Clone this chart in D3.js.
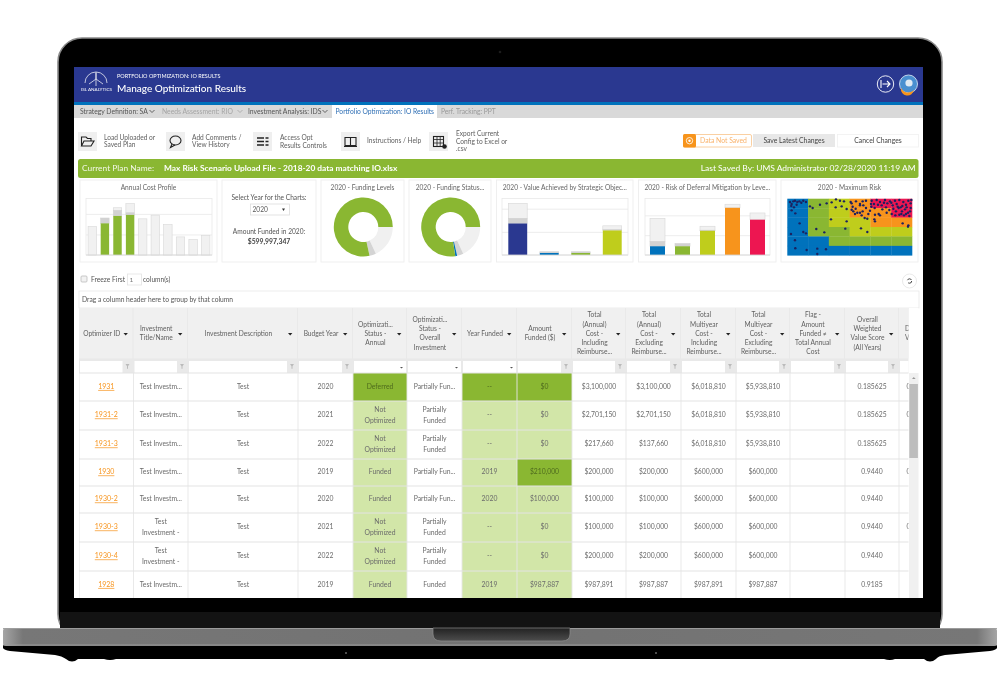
<!DOCTYPE html>
<html>
<head>
<meta charset="utf-8">
<title>Manage Optimization Results</title>
<script src="https://cdn.jsdelivr.net/npm/d3@7"></script>
<style>
  html, body { margin: 0; padding: 0; background: #fff; }
  svg { display: block; }
  text { font-family: "Lato", "Open Sans", sans-serif; }
</style>
</head>
<body>
<div id="chart"></div>
<script>
// Annual cost profile ($M)
const costBars = [0, 1, 2, 3, 4, 5, 6, 7, 8, 9];
const costFunded = [0, 770, 950, 975, 0, 0, 0, 0, 0, 0];
const costGray = [0, 130, 130, 50, 0, 0, 0, 0, 0, 0];
const costLight = [690, 0, 70, 225, 880, 970, 740, 440, 375, 470];

// Donuts (percent of total)
const levelShares = [18, 3.6, 78.4];
const levelColors = ["#f0f0f0", "#d4d4d4", "#8ab733"];
const statusShares = [18, 3.5, 1, 77.5];
const statusColors = ["#f0f0f0", "#d4d4d4", "#0072bc", "#8ab733"];

// Value achieved by strategic objective
const valueBars = [0, 1, 2, 3];
const valueFunded = [68, 4.3, 4.3, 53];
const valueGray = [11, 2.7, 2.7, 1.5];
const valueLight = [32.6, 0, 0, 8.5];
const valueColors = ["#2b3990", "#0072bc", "#8ab733", "#bfcd1f"];

// Risk of deferral mitigation by level
const riskBars = [0, 1, 2, 3, 4];
const riskFunded = [22, 22, 61, 119, 89];
const riskGray = [12, 7, 1.5, 0, 0];
const riskLight = [58.5, 0, 10, 9, 17];
const riskColors = ["#0072bc", "#8ab733", "#bfcd1f", "#f7941d", "#ed1651"];

// Maximum risk heat map, level of each cell from the top row down
const riskLevelColors = ["#0072bc", "#8ab733", "#bfcd1f", "#f7941d", "#ed1651"];
const riskMatrix = [
  [0, 1, 2, 3, 4, 4],
  [0, 1, 2, 3, 3, 4],
  [0, 1, 2, 2, 3, 3],
  [0, 1, 1, 2, 2, 2],
  [0, 0, 1, 1, 1, 1],
  [0, 0, 0, 0, 0, 0]
];
const riskPoints = [
  [8,160],[13,154],[18,162],[23,164],[30,160],[36,162],[48,164],[56,160],[20,144],[13,135],[24,126],[37,96],
  [11,64],[48,70],[56,66],[23,45],[24,21],[58,16],[90,20],[90,4],[116,18],[12,148],[28,152],[42,158],
  [68,147],[76,142],[98,152],[118,156],[133,159],[87,79],[111,69],
  [146,168],[158,164],[170,162],[145,144],[163,147],[178,139],[131,108],[178,102],[174,80],[221,81],[240,70],
  [193,137],[198,132],[190,160],[206,162],[218,154],[226,162],[236,164],[203,124],[210,128],[218,128],[223,120],
  [236,142],[243,124],[240,110],[263,122],[261,108],[263,102],[274,124],[278,120],[298,128],[226,132],[346,96],
  [363,90],[362,86],[193,156],[228,150],[218,150],[196,146],[205,140],[232,112],[248,134],
  [253,164],[260,154],[268,166],[278,160],[283,150],[293,166],[300,156],[308,162],[316,150],[323,164],[328,154],
  [336,166],[340,144],[348,160],[356,152],[363,164],[370,156],[318,140],[326,132],[334,142],[344,132],[353,138],
  [362,128],[370,142],[324,120],[336,122],[350,120],[366,118],[313,124],[252,146],[262,142],[272,152],[285,138],
  [296,144],[306,136],[290,158],[312,158],[331,146],[345,148],[358,144],[368,132],[356,124],[342,124],[372,166],[251,154]
];

// Table
const columnHeaders = [
  "Optimizer ID", "Investment\nTitle/Name", "Investment Description", "Budget Year",
  "Optimizati...\nStatus -\nAnnual", "Optimizati...\nStatus -\nOverall\nInvestment", "Year Funded",
  "Amount\nFunded ($)", "Total\n(Annual)\nCost -\nIncluding\nReimburse...", "Total\n(Annual)\nCost -\nExcluding\nReimburse...",
  "Total\nMultiyear\nCost -\nIncluding\nReimburse...", "Total\nMultiyear\nCost -\nExcluding\nReimburse...",
  "Flag -\nAmount\nFunded \u2260\nTotal Annual\nCost", "Overall\nWeighted\nValue Score\n(All Years)", "D\nV"
];
const columnEdges = [79, 133.5, 188, 298, 353, 407, 462, 517, 572, 626, 681, 736, 790, 845, 899, 953];
const filterKinds = ["f", "f", "f", "f", "d", "d", "d", "f", "f", "f", "f", "f", "f", "f", "f"];
const rowEdges = [373, 401, 430, 459, 486, 513, 542, 571, 599];
const optimizerIds = ["1931", "1931-2", "1931-3", "1930", "1930-2", "1930-3", "1930-4", "1928"];
const titles = ["Test Investm...", "Test Investm...", "Test Investm...", "Test Investm...", "Test Investm...", "Test\nInvestment -", "Test\nInvestment -", "Test Investm..."];
const descriptions = ["Test", "Test", "Test", "Test", "Test", "Test", "Test", "Test"];
const budgetYears = ["2020", "2021", "2022", "2019", "2020", "2021", "2022", "2019"];
const statusAnnual = ["Deferred", "Not\nOptimized", "Not\nOptimized", "Funded", "Funded", "Not\nOptimized", "Not\nOptimized", "Funded"];
const statusOverall = ["Partially Fun...", "Partially\nFunded", "Partially\nFunded", "Partially Fun...", "Partially Fun...", "Partially\nFunded", "Partially\nFunded", "Funded"];
const yearFunded = ["--", "--", "--", "2019", "2020", "--", "--", "2019"];
const amountFunded = ["$0", "$0", "$0", "$210,000", "$100,000", "$0", "$0", "$987,887"];
const annualIncl = ["$3,100,000", "$2,701,150", "$217,660", "$200,000", "$100,000", "$100,000", "$200,000", "$987,891"];
const annualExcl = ["$3,100,000", "$2,701,150", "$137,660", "$200,000", "$100,000", "$100,000", "$200,000", "$987,887"];
const multiIncl = ["$6,018,810", "$6,018,810", "$6,018,810", "$600,000", "$600,000", "$600,000", "$600,000", "$987,891"];
const multiExcl = ["$5,938,810", "$5,938,810", "$5,938,810", "$600,000", "$600,000", "$600,000", "$600,000", "$987,887"];
const flags = ["", "", "", "", "", "", "", ""];
const scores = ["0.185625", "0.185625", "0.185625", "0.9440", "0.9440", "0.9440", "0.9440", "0.9185"];
const lastColumn = ["0", "0", "", "0", "", "0", "", ""];
const tableColumns = [optimizerIds, titles, descriptions, budgetYears, statusAnnual, statusOverall, yearFunded, amountFunded,
  annualIncl, annualExcl, multiIncl, multiExcl, flags, scores, lastColumn];

const width = 1000, height = 700;
const textGray = "#6b6b6b";

const svg = d3.select("#chart").append("svg")
  .attr("width", width)
  .attr("height", height);

const defs = svg.append("defs");
defs.append("filter").attr("id", "soft").attr("x", 0).attr("y", 0).attr("width", 1).attr("height", 1)
  .append("feGaussianBlur").attr("stdDeviation", 0.34);
defs.append("clipPath").attr("id", "screenClip")
  .append("rect").attr("x", 74).attr("y", 67).attr("width", 849).attr("height", 531);
defs.append("clipPath").attr("id", "tableClip")
  .append("rect").attr("x", 79).attr("y", 308).attr("width", 829.5).attr("height", 290);

const baseGrad = defs.append("linearGradient").attr("id", "baseGrad").attr("x1", 0).attr("x2", 1).attr("y1", 0).attr("y2", 0);
[[0, "#a5a5a5"], [0.02, "#777"], [0.5, "#727272"], [0.98, "#777"], [1, "#a5a5a5"]].forEach(s =>
  baseGrad.append("stop").attr("offset", s[0]).attr("stop-color", s[1]));
const notchGrad = defs.append("linearGradient").attr("id", "notchGrad").attr("x1", 0).attr("x2", 0).attr("y1", 0).attr("y2", 1);
[[0, "#222"], [1, "#4d4d4d"]].forEach(s =>
  notchGrad.append("stop").attr("offset", s[0]).attr("stop-color", s[1]));

// small text helper, "\n" makes a new line centred around y
function label(parent, x, y, str, size, color, anchor, weight, lineHeight) {
  const lines = String(str).split("\n");
  const lh = lineHeight || size * 1.4;
  const t = parent.append("text")
    .attr("text-anchor", anchor || "start")
    .attr("font-size", size)
    .attr("fill", color || textGray)
    .attr("font-weight", weight || 400);
  lines.forEach((l, i) => {
    t.append("tspan")
      .attr("x", x)
      .attr("y", y + size * 0.35 + (i - (lines.length - 1) / 2) * lh)
      .text(l);
  });
  return t;
}

function box(parent, x, y, w, h, fill, stroke, r) {
  return parent.append("rect")
    .attr("x", x).attr("y", y).attr("width", w).attr("height", h)
    .attr("fill", fill).attr("stroke", stroke || "none").attr("stroke-width", stroke ? 0.8 : 0)
    .attr("rx", r || 0);
}

// ---- laptop body ----
const laptop = svg.append("g");
laptop.append("path")
  .attr("d", "M3,645 L997,645 L997,648 Q996,650 990,651 L945,655 Q938,656 936,659 Q930,664 924,659 L895,659 Q890,661 884,659 L116,659 Q110,661 104,659 L78,659 Q72,664 66,659 Q62,656 55,655 L10,651 Q4,650 3,648 Z")
  .attr("fill", "#000");
laptop.append("rect").attr("x", 58).attr("y", 38).attr("width", 884).attr("height", 600)
  .attr("rx", 24).attr("fill", "#000").attr("stroke", "#8a8a8a").attr("stroke-width", 1.6);
box(laptop, 60, 612, 880, 16, "#131313");
laptop.append("circle").attr("cx", 500).attr("cy", 52).attr("r", 1.3).attr("fill", "#1c1c1c");
laptop.append("rect").attr("x", 3).attr("y", 628).attr("width", 994).attr("height", 18).attr("rx", 3).attr("fill", "url(#baseGrad)");
box(laptop, 3, 628, 994, 0.9, "#a0a0a0");
box(laptop, 3, 644.5, 994, 1, "#9a9a9a");
laptop.append("path")
  .attr("d", "M433,628 L570,628 L570,634 Q570,641 562,641 L441,641 Q433,641 433,634 Z")
  .attr("fill", "url(#notchGrad)").attr("stroke", "#8d8d8d").attr("stroke-width", 0.7);
laptop.selectAll(".foot-dot").data([346, 656]).enter().append("circle")
  .attr("cx", d => d).attr("cy", 653).attr("r", 1).attr("fill", "#666");

// ---- screen ----
const screen = svg.append("g").attr("clip-path", "url(#screenClip)").append("g").attr("filter", "url(#soft)");
box(screen, 74, 67, 849, 531, "#fff");

// header band
box(screen, 74, 67, 849, 35, "#2b3990");
box(screen, 74, 102, 849, 3, "#0072bc");
label(screen, 117, 76.5, "PORTFOLIO OPTIMIZATION: IO RESULTS", 5.5, "#fff");
label(screen, 117, 88, "Manage Optimization Results", 10, "#fff", "start", 500);

// logo
const logo = screen.append("g").attr("stroke", "#fff").attr("fill", "none").attr("stroke-width", 0.7);
logo.append("path").attr("d", "M85,83 A11,11 0 0 1 107,83");
logo.append("path").attr("d", "M96,73 V86 M96,79 L89,84 M96,79 L103,84 M96,79 L96,72");
label(screen, 96.5, 89.5, "ISL ANALYTICS", 4.6, "#fff", "middle");

// top right buttons
const exitBtn = screen.append("g").attr("fill", "none").attr("stroke", "#fff");
exitBtn.append("circle").attr("cx", 885.5).attr("cy", 84).attr("r", 8.2).attr("stroke-width", 0.9);
exitBtn.append("path").attr("stroke-width", 1.1).attr("d", "M881,80 V88 M882.5,84 H890 M887,81 L890,84 L887,87");
screen.append("circle").attr("cx", 908.5).attr("cy", 84).attr("r", 9).attr("fill", "#4a8fd0").attr("stroke", "#cfe0f2").attr("stroke-width", 0.9);
screen.append("path").attr("d", "M901,88 A8,8 0 0 0 914,90 A6,6 0 0 1 901,88 Z").attr("fill", "#f7941d");
screen.append("circle").attr("cx", 909).attr("cy", 83).attr("r", 3.6).attr("fill", "#dfe9f3");

// nav strip
box(screen, 74, 105, 849, 13, "#d9d9d9");
box(screen, 332, 105, 105, 13, "#fff");
label(screen, 80, 111.5, "Strategy Definition: SA", 6.8, "#555");
label(screen, 162, 111.5, "Needs Assessment: RIO", 6.8, "#a5a5a5");
label(screen, 248, 111.5, "Investment Analysis: IDS", 6.8, "#555");
label(screen, 335.5, 111.5, "Portfolio Optimization: IO Results", 6.7, "#2f6fb5");
label(screen, 441, 111.5, "Perf. Tracking: PPT", 6.7, "#999");
[[152, "#555"], [240, "#aaa"], [325, "#555"]].forEach(c =>
  screen.append("path").attr("d", `M${c[0] - 2.5},110 L${c[0]},112.5 L${c[0] + 2.5},110`).attr("fill", "none").attr("stroke", c[1]).attr("stroke-width", 0.9));

// toolbar
const toolTiles = [78, 166, 253, 341, 429];
toolTiles.forEach(x => box(screen, x, 132, 19, 19, "#efefef"));
const iconStroke = g => g.attr("fill", "none").attr("stroke", "#222").attr("stroke-width", 1.1);
screen.append("path").call(iconStroke).attr("d", "M81.5,146 V137 H86 L87.5,138.5 H91 V141 M81.5,146 L84,141 H94 L91,146 Z");
screen.append("ellipse").call(iconStroke).attr("cx", 175.5).attr("cy", 140.5).attr("rx", 5.5).attr("ry", 4.5);
screen.append("path").call(iconStroke).attr("d", "M172,144 L170.5,147.5 L175,145");
[138, 141.5, 145].forEach(y => screen.append("path").call(iconStroke).attr("stroke-width", 1.4).attr("stroke-dasharray", "7 1.5 3")
  .attr("d", `M257,${y} H268.5`));
screen.append("path").call(iconStroke).attr("d", "M345,137.5 H350.5 V145.5 H345 Z M350.5,137.5 H356 V145.5 H350.5 M344,146.5 H357");
screen.append("rect").call(iconStroke).attr("x", 433.5).attr("y", 136.5).attr("width", 10).attr("height", 10);
screen.append("path").call(iconStroke).attr("stroke-width", 0.8).attr("d", "M433.5,139.5 H443.5 M433.5,143 H443.5 M437,136.5 V146.5 M440.2,136.5 V146.5");
screen.append("circle").attr("cx", 444.5).attr("cy", 146.5).attr("r", 2.3).attr("fill", "#222");
const toolText = "#5f5f5f";
label(screen, 104, 141, "Load Uploaded or\nSaved Plan", 6.6, toolText, "start", 400, 7.4);
label(screen, 192, 141, "Add Comments /\nView History", 6.6, toolText, "start", 400, 7.4);
label(screen, 280, 141.5, "Access Opt\nResults Controls", 6.6, toolText, "start", 400, 7.4);
label(screen, 367, 141, "Instructions / Help", 6.6, toolText);
label(screen, 456, 141.5, "Export Current\nConfig to Excel or\n.csv", 6.6, toolText, "start", 400, 7.4);

// save buttons
box(screen, 683.5, 134.5, 68, 12.5, "#fff", "#f9c48a", 1.5);
box(screen, 683, 134, 13, 13.5, "#f7941d", null, 1.5);
screen.append("circle").attr("cx", 689.5).attr("cy", 140.7).attr("r", 3.2).attr("fill", "none").attr("stroke", "#fff").attr("stroke-width", 0.8);
screen.append("circle").attr("cx", 689.5).attr("cy", 140.7).attr("r", 1.2).attr("fill", "#fff");
label(screen, 723.5, 140.5, "Data Not Saved", 6.8, "#f9b26b", "middle");
box(screen, 753, 134, 82, 13, "#e8e8e8");
label(screen, 794, 140.5, "Save Latest Changes", 6.8, "#444", "middle");
box(screen, 837.5, 134.5, 81, 12.5, "#fff", "#f0f0f0");
label(screen, 878, 140.5, "Cancel Changes", 6.8, "#444", "middle");

// plan name bar
box(screen, 78, 159, 840.5, 19, "#8ab733", null, 2.5);
label(screen, 82, 168.5, "Current Plan Name:", 8.4, "#f2f7e6");
label(screen, 164, 168.5, "Max Risk Scenario Upload File - 2018-20 data matching IO.xlsx", 8.35, "#fff", "start", 700);
label(screen, 915.5, 168.5, "Last Saved By:  UMS Administrator 02/28/2020 11:19 AM", 8.45, "#fff", "end");

// ---- chart cards ----
const cards = [
  [80, 217, "Annual Cost Profile"],
  [222, 316, ""],
  [321, 404, "2020 - Funding Levels"],
  [409, 491, "2020 - Funding Status..."],
  [496.5, 633, "2020 - Value Achieved by Strategic Objec..."],
  [638.5, 776, "2020 - Risk of Deferral Mitigation by Leve..."],
  [781, 918, "2020 - Maximum Risk"]
];
cards.forEach(c => {
  box(screen, c[0], 180, c[1] - c[0], 82, "#fff", "#ececec");
  if (c[2]) label(screen, (c[0] + c[1]) / 2, 187.5, c[2], 6.6, "#666", "middle");
});

// year selector card
label(screen, 269, 197.5, "Select Year for the Charts:", 6.6, "#555", "middle");
box(screen, 250.5, 204, 39, 11, "#fff", "#ddd");
label(screen, 252.5, 209.5, "2020", 6.6, "#555");
screen.append("path").attr("d", "M282,208.5 L285,208.5 L283.5,211 Z").attr("fill", "#333");
label(screen, 269, 232, "Amount Funded in 2020:", 6.6, "#555", "middle");
label(screen, 269, 241.5, "$599,997,347", 6.8, "#444", "middle", 700);

// stacked bar card: funded on the bottom, then gray, then light
function stackedCard(x0, x1, cats, funded, gray, light, domainMax, ticks, colors, padding) {
  const y0 = 255, y1 = 198.5;
  const g = screen.append("g");
  const xScale = d3.scaleBand().domain(cats).range([x0, x1]).paddingInner(padding).paddingOuter(padding / 2);
  const yScale = d3.scaleLinear().domain([0, domainMax]).range([y0, y1]);

  box(g, x0, y1, x1 - x0, y0 - y1, "#fff", "#e9e9e9");
  const grid = g.append("g").attr("transform", `translate(${x0},0)`)
    .call(d3.axisLeft(yScale).tickValues(ticks).tickSize(-(x1 - x0)).tickFormat(""));
  grid.select(".domain").remove();
  grid.selectAll("line").attr("stroke", "#e9e9e9").attr("stroke-width", 0.8);

  const segment = (values, base, fill, stroke) => g.selectAll(null).data(cats).enter().append("rect")
    .attr("x", d => xScale(d))
    .attr("width", xScale.bandwidth())
    .attr("y", d => yScale(base[d] + values[d]))
    .attr("height", d => yScale(base[d]) - yScale(base[d] + values[d]))
    .attr("fill", fill)
    .attr("stroke", d => values[d] > 0 ? stroke : "none")
    .attr("stroke-width", 0.6);
  const zeros = cats.map(() => 0);
  const grayBase = cats.map(d => funded[d]);
  const lightBase = cats.map(d => funded[d] + gray[d]);
  segment(light, lightBase, "#f1f1f1", "#d8d8d8");
  segment(gray, grayBase, "#d2d2d2", "#d2d2d2");
  segment(funded, zeros, d => colors[d], "none");

  g.append("line").attr("x1", x0).attr("x2", x1).attr("y1", y0).attr("y2", y0).attr("stroke", "#d5d5d5").attr("stroke-width", 0.8);
}
stackedCard(86, 212, costBars, costFunded, costGray, costLight, 1375, [500, 1000], costBars.map(() => "#8ab733"), 0.33);
stackedCard(502, 628, valueBars, valueFunded, valueGray, valueLight, 122, [50, 100], valueColors, 0.4);
stackedCard(645, 770, riskBars, riskFunded, riskGray, riskLight, 142.5, [50, 100], riskColors, 0.4);

// donuts start at 3 o'clock and run clockwise
function donut(cx, cy, shares, colors) {
  const pie = d3.pie().sort(null).startAngle(Math.PI / 2).endAngle(Math.PI / 2 + 2 * Math.PI);
  const arc = d3.arc().innerRadius(15).outerRadius(29.5);
  screen.append("g").attr("transform", `translate(${cx},${cy})`)
    .selectAll("path").data(pie(shares)).enter().append("path")
    .attr("d", arc)
    .attr("fill", (d, i) => colors[i]);
}
donut(363.3, 227, levelShares, levelColors);
donut(450.7, 227, statusShares, statusColors);

// heat map with investments on top
const hx = d3.scaleBand().domain(d3.range(6)).range([787.3, 912]);
const hy = d3.scaleBand().domain(d3.range(6)).range([198.7, 255.3]);
riskMatrix.forEach((row, r) => {
  screen.append("g").selectAll("rect").data(row).enter().append("rect")
    .attr("x", (d, c) => hx(c))
    .attr("y", hy(r))
    .attr("width", hx.bandwidth() + 0.3)
    .attr("height", hy.bandwidth() + 0.3)
    .attr("fill", d => riskLevelColors[d]);
});
const px = d3.scaleLinear().domain([0, 374]).range([787.3, 912]);
const py = d3.scaleLinear().domain([0, 170]).range([255.3, 198.7]);
screen.append("g").selectAll("circle").data(riskPoints).enter().append("circle")
  .attr("cx", d => px(d[0]))
  .attr("cy", d => py(d[1]))
  .attr("r", 1.2)
  .attr("fill", "#1b2160");

// ---- freeze row ----
box(screen, 81, 276, 6, 6, "#f2f2f2", "#bbb", 1);
label(screen, 91, 279.5, "Freeze First", 6.7, "#555");
box(screen, 127.5, 274, 14, 11, "#fff", "#e3e3e3");
label(screen, 129.5, 279.5, "1", 6.4, "#777");
label(screen, 143, 279.5, "column(s)", 6.6, "#555");
screen.append("circle").attr("cx", 909.5).attr("cy", 281).attr("r", 7).attr("fill", "#fff").attr("stroke", "#e3e3e3").attr("stroke-width", 0.8);
screen.append("circle").attr("cx", 909.5).attr("cy", 281).attr("r", 2.2).attr("fill", "none").attr("stroke", "#333").attr("stroke-width", 0.9).attr("stroke-dasharray", "4.5 2.5");

// group-by strip
box(screen, 79, 291, 840, 17, "#fff", "#e8e8e8");
label(screen, 82, 299.5, "Drag a column header here to group by that column", 6.7, "#555");

// ---- table ----
const table = screen.append("g").attr("clip-path", "url(#tableClip)");
const colX = i => columnEdges[i];
const colW = i => columnEdges[i + 1] - columnEdges[i];

box(table, 79, 308, 830, 65, "#e9e9e9");
columnHeaders.forEach((h, i) => {
  const x = colX(i), w = colW(i);
  box(table, x, 308, w - 1, 50.5, "#f0f0f0");
  const clipped = h.startsWith("D\n");
  label(table, clipped ? x + 6 : x + (w - 9) / 2, 333.5, h, 6.6, "#5f5f5f", clipped ? "start" : "middle", 400, 9.25);
  if (!clipped) table.append("path")
    .attr("d", `M${x + w - 10},333 h4.4 l-2.2,2.4 Z`).attr("fill", "#222");

  // filter row
  if (filterKinds[i] === "f") {
    box(table, x + 1, 361, w - 12, 12, "#fff");
    table.append("path").attr("d", `M${x + w - 8},364 h4 l-1.5,2.2 v2.5 h-1 v-2.5 Z`).attr("fill", "#bbb");
  } else {
    box(table, x + 1, 361, w - 2, 12, "#fff");
    table.append("path").attr("d", `M${x + w - 7},367 h3 l-1.5,1.6 Z`).attr("fill", "#555");
  }
});

// body cells
const lightGreen = "#d2e6a8", darkGreen = "#8ab733";
const greenColumns = [4, 6, 7];
const darkCells = ["0-4", "0-6", "0-7", "3-7"];
optimizerIds.forEach((id, r) => {
  const y = rowEdges[r], h = rowEdges[r + 1] - y;
  tableColumns.forEach((col, c) => {
    const key = r + "-" + c;
    let fill = "#fff";
    if (greenColumns.includes(c)) fill = darkCells.includes(key) ? darkGreen : lightGreen;
    box(table, colX(c), y, colW(c), h, fill);
    table.append("line").attr("x1", colX(c)).attr("x2", colX(c)).attr("y1", y).attr("y2", y + h)
      .attr("stroke", "#e6e6e6").attr("stroke-width", 0.9);
    const cx = colX(c) + colW(c) / 2;
    const cy = y + h / 2 - 0.5;
    if (c === 0) {
      label(table, cx, cy, col[r], 7, "#f7941d", "middle").attr("text-decoration", "underline");
    } else if (c === 14) {
      label(table, colX(c) + 7.5, cy, col[r], 6.8, "#6b6b6b");
    } else if (col[r]) {
      label(table, cx, cy, col[r], 6.8, darkCells.includes(key) ? "#4f6b1d" : "#6b6b6b", "middle", 400, 10.5);
    }
  });
  table.append("line").attr("x1", 79).attr("x2", 909).attr("y1", y).attr("y2", y)
    .attr("stroke", "#e3e3e3").attr("stroke-width", 1);
});

// scrollbar
box(screen, 909, 308, 9.5, 65, "#fff");
box(screen, 909, 373, 9.5, 225, "#f0f0f0");
box(screen, 909.3, 384, 8.6, 74, "#bdbdbd");
screen.append("path").attr("d", "M912,379 l1.8,-2 l1.8,2 Z").attr("fill", "#999");
</script>
</body>
</html>
